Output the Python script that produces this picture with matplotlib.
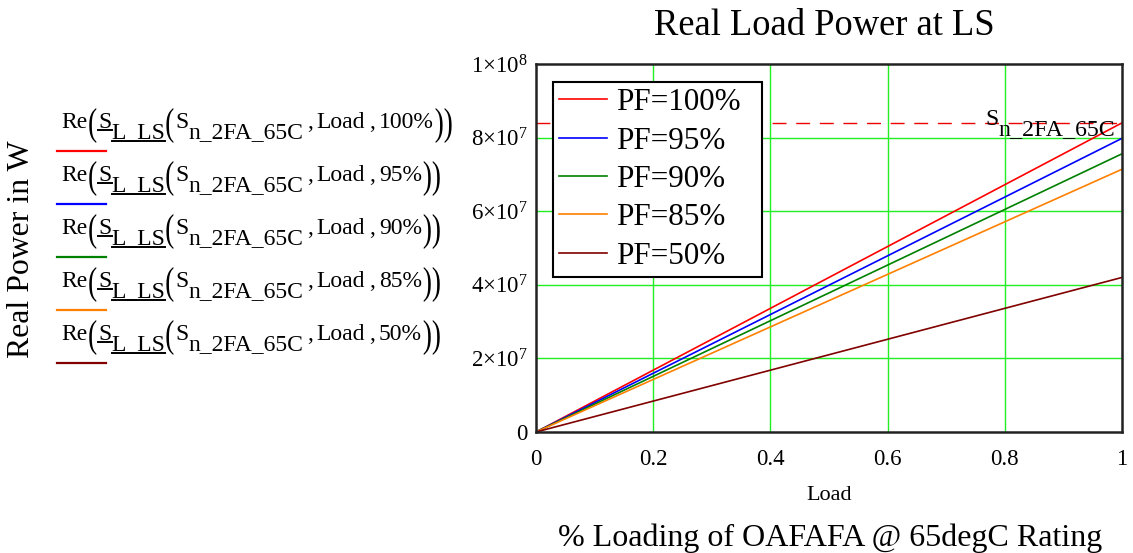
import numpy as np
import matplotlib
matplotlib.use("Agg")
import matplotlib.pyplot as plt
from matplotlib.textpath import TextPath
from matplotlib.patches import PathPatch, Rectangle
from matplotlib.font_manager import FontProperties
from matplotlib.transforms import Affine2D
from matplotlib.lines import Line2D

# ---- data ----
S_rated = 84e6                      # S_n_2FA_65C, VA
power_factors = [1.00, 0.95, 0.90, 0.85, 0.50]
pf_labels = ["100%", "95%", "90%", "85%", "50%"]
load = np.array([0.0, 1.0])         # per-unit loading
x_ticks = [0, 0.2, 0.4, 0.6, 0.8, 1]
x_tick_labels = ["0", "0.2", "0.4", "0.6", "0.8", "1"]
y_ticks = [0, 2e7, 4e7, 6e7, 8e7, 1e8]
y_tick_labels = ["0", r"$2{\times}10^{7}$", r"$4{\times}10^{7}$",
                 r"$6{\times}10^{7}$", r"$8{\times}10^{7}$", r"$1{\times}10^{8}$"]

colors = ["#ff0000", "#0000ff", "#008000", "#ff8000", "#800000"]

SERIF = "Liberation Serif"
plt.rcParams["font.family"] = [SERIF, "DejaVu Serif"]
plt.rcParams["mathtext.fontset"] = "custom"
plt.rcParams["mathtext.rm"] = SERIF
plt.rcParams["mathtext.it"] = SERIF + ":italic"
plt.rcParams["mathtext.bf"] = SERIF + ":bold"

W, H = 1133, 553
fig = plt.figure(figsize=(W / 100, H / 100), dpi=100)
fig.patch.set_facecolor("white")

# ---- main axes ----
AX_L, AX_T, AX_W, AX_H = 536, 64, 586, 368
ax = fig.add_axes([AX_L / W, (H - AX_T - AX_H) / H, AX_W / W, AX_H / H])
ax.set_xlim(0, 1)
ax.set_ylim(0, 1e8)
for x in x_ticks[1:-1]:
    ax.axvline(x, color="#22ee22", lw=1.0, zorder=1)
for y in y_ticks[1:-1]:
    ax.axhline(y, color="#22ee22", lw=1.0, zorder=1)

for pf, lab, c in zip(power_factors, pf_labels, colors):
    ax.plot(load, S_rated * pf * load, color=c, lw=1.2, label="PF=" + lab, zorder=3)

ax.plot([0, 1], [S_rated, S_rated], color="#ee0000", lw=1.0,
        dashes=(10, 7), zorder=2)

ax.set_xticks(x_ticks)
ax.set_xticklabels(x_tick_labels)
ax.set_yticks(y_ticks)
ax.set_yticklabels(y_tick_labels)
ax.tick_params(length=0, labelsize=16.5, pad=6)
ax.tick_params(axis="x", pad=12)
for sp in ax.spines.values():
    sp.set_linewidth(1.8)
    sp.set_color("#222222")
    sp.set_zorder(8)

ax.set_xlabel("Load", fontsize=16, labelpad=12)


def px_to_axes(x, y):
    return (x - AX_L) / AX_W, (AX_T + AX_H - y) / AX_H


# legend box
bx0, by0 = px_to_axes(553, 277)
bx1, by1 = px_to_axes(762, 82)
ax.add_patch(Rectangle((bx0, by0), bx1 - bx0, by1 - by0, transform=ax.transAxes,
                       facecolor="white", edgecolor="black", lw=1.5, zorder=6,
                       clip_on=False))

leg = ax.legend(loc="upper left", bbox_to_anchor=(0.029, 0.951), borderaxespad=0,
                fontsize=22.4, frameon=False, handlelength=1.55,
                handletextpad=0.27, labelspacing=0.30, borderpad=0.2)
leg.set_zorder(7)
for h in leg.get_lines():
    h.set_linewidth(1.2)

fig.text(824 / W, 1 - 26 / H, "Real Load Power at LS", fontsize=26.3,
         ha="center", va="center")
fig.text(830 / W, 1 - 538 / H, "% Loading of OAFAFA @ 65degC Rating",
         fontsize=23, ha="center", va="center")
fig.text(22 / W, 1 - 249 / H, "Real Power in W", fontsize=22.9,
         rotation=90, ha="center", va="center")

renderer = fig.canvas.get_renderer()
fp_paren = FontProperties(family=SERIF)
paren_path = {c: TextPath((0, 0), c, size=1, prop=fp_paren) for c in "()"}


def put(x, base, s, size=17.0):
    t = fig.text(x / W, 1 - base / H, s, fontsize=size, ha="left", va="baseline")
    return t.get_window_extent(renderer).width


def underline(x0, x1, y):
    fig.add_artist(Line2D([x0 / W, x1 / W], [1 - y / H, 1 - y / H],
                          transform=fig.transFigure, color="black", lw=1.4))


def paren(ch, x, top, bottom, width=7):
    p = paren_path[ch]
    e = p.get_extents()
    tr = (Affine2D().translate(-e.x0, -e.y0)
          .scale(width / e.width, (bottom - top) / e.height)
          .translate(x, H - bottom))
    fig.add_artist(PathPatch(p, transform=tr, facecolor="black", lw=0))
    return width


def expr_row(base, pct, line_color):
    top, bot = base - 20, base + 15
    sub = base + 10
    x = 61
    x += put(x, base, "Re") + 2
    x += paren("(", x, top, bot) + 2
    w = put(x, base, "S")
    underline(x, x + w, base + 2)
    x += w
    w = put(x, sub, "L_LS")
    underline(x, x + w, sub + 3)
    x += w + 1
    x += paren("(", x, top, bot) + 2
    x += put(x, base, "S")
    x += put(x, sub, "n_2FA_65C") + 4
    x += put(x, base, ",") + 3
    x += put(x, base, "Load") + 4
    x += put(x, base, ",") + 4
    x += put(x, base, pct) + 2
    x += paren(")", x, top, bot) + 2
    paren(")", x, top, bot)
    fig.add_artist(Line2D([57 / W, 106 / W], [1 - (base + 23) / H] * 2,
                          transform=fig.transFigure, color=line_color, lw=1.6))


for i, (lab, c) in enumerate(zip(pf_labels, colors)):
    expr_row(128 + 53 * i, lab, c)

# rated-power marker label on the dashed line
sx = 985
sx += put(sx, 125, "S")
put(sx, 135, "n_2FA_65C", size=17.2)

fig.savefig("out.png", dpi=100)
